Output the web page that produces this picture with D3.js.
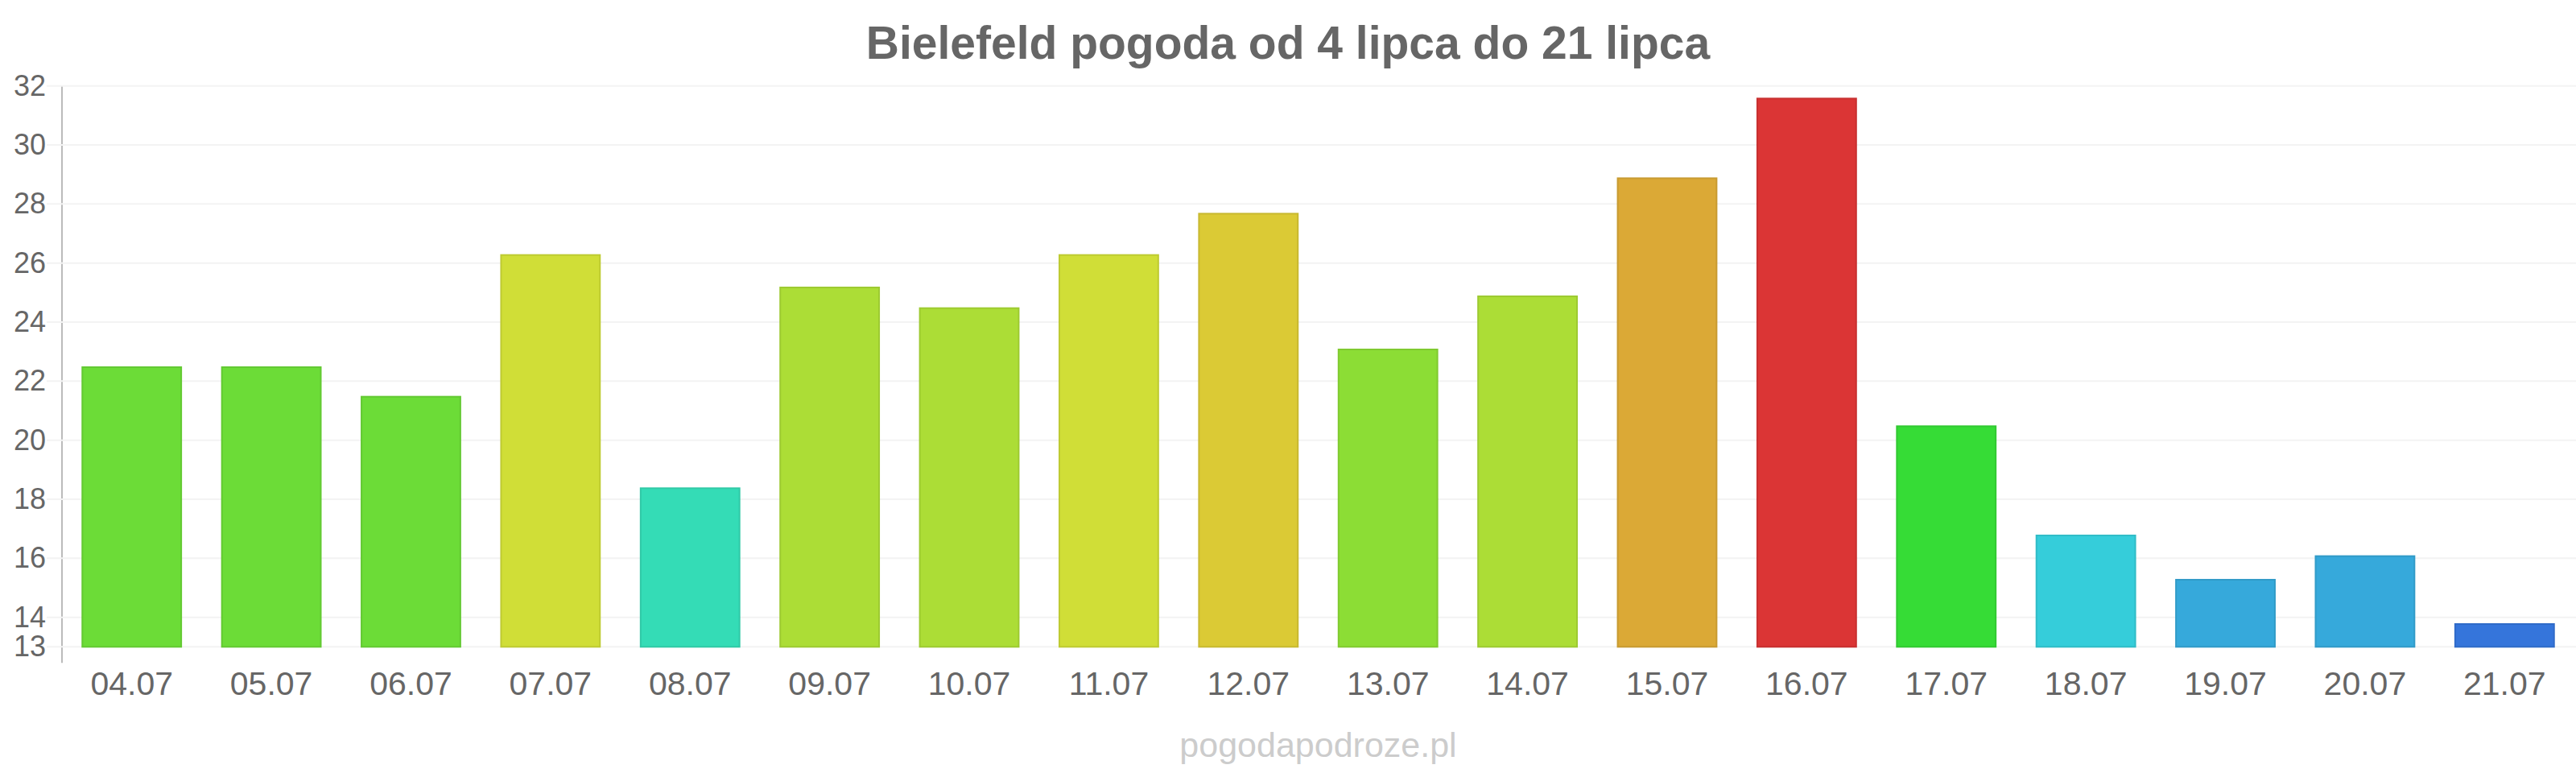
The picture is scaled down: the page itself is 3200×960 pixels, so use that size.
<!DOCTYPE html>
<html>
<head>
<meta charset="utf-8">
<script src="https://cdn.jsdelivr.net/npm/d3@7"></script>
<style>
  body { margin: 0; background: #fff; }
  svg { display: block; font-family: "Liberation Sans", Arial, sans-serif; }
</style>
</head>
<body>
<div id="chart"></div>
<script>
var title = "Bielefeld pogoda od 4 lipca do 21 lipca";
var days = ["04.07", "05.07", "06.07", "07.07", "08.07", "09.07", "10.07", "11.07", "12.07",
	"13.07", "14.07", "15.07", "16.07", "17.07", "18.07", "19.07", "20.07", "21.07"];
var temps = [22.5, 22.5, 21.5, 26.3, 18.4, 25.2, 24.5, 26.3, 27.7,
	23.1, 24.9, 28.9, 31.6, 20.5, 16.8, 15.3, 16.1, 13.8];
var yTicks = [13, 14, 16, 18, 20, 22, 24, 26, 28, 30, 32];
var credit = "pogodapodroze.pl";

var width = 3200, height = 960;
var left = 77, right = 3198;

var svg = d3.select("#chart").append("svg")
	.attr("width", width)
	.attr("height", height);

var x = d3.scaleBand()
	.domain(days)
	.range([left, right])
	.paddingInner(0.28)
	.paddingOuter(0.14);

var y = d3.scaleLinear()
	.domain([13, 32])
	.range([803.3, 106.7]);

// temperature -> colour
var color = d3.scaleThreshold()
	.domain([14, 16.5, 18, 20, 21, 23, 24, 26, 27, 28, 30])
	.range(["#3575db", "#36a9db", "#35cdda", "#34dcb6", "#36dc36", "#6cdc37",
		"#8cdd35", "#acdd36", "#d0de37", "#dbca35", "#dba936", "#db3535"]);

// axis line
svg.append("line")
	.attr("x1", left).attr("x2", left)
	.attr("y1", y(32)).attr("y2", y(13) + 20)
	.attr("stroke", "#bbbbbb")
	.attr("stroke-width", 2);

// grid
svg.append("g").selectAll("line")
	.data(yTicks)
	.join("line")
	.attr("x1", 58).attr("x2", width)
	.attr("y1", function(d){ return y(d); })
	.attr("y2", function(d){ return y(d); })
	.attr("stroke", "#f3f3f3")
	.attr("stroke-width", 2);

// y labels
var yAxis = svg.append("g")
	.attr("transform", "translate(" + (left - 20) + ",0)")
	.call(d3.axisLeft(y).tickValues(yTicks).tickSize(0).tickPadding(0));
yAxis.select(".domain").remove();
yAxis.selectAll("text")
	.attr("fill", "#666")
	.style("font-size", "36px")
	.style("font-family", "Liberation Sans, Arial, sans-serif");

// bars
svg.append("g").selectAll("rect")
	.data(temps)
	.join("rect")
	.attr("x", function(d, i){ return x(days[i]) + 1; })
	.attr("width", x.bandwidth() - 2)
	.attr("y", function(d){ return y(d) + 1; })
	.attr("height", function(d){ return y(13) - y(d) - 1; })
	.attr("fill", function(d){ return color(d); })
	.attr("stroke", function(d){ return d3.color(color(d)).darker(0.25); })
	.attr("stroke-width", 2);

// x labels
var xAxis = svg.append("g")
	.attr("transform", "translate(0," + 832 + ")")
	.call(d3.axisBottom(x).tickSize(0).tickPadding(0));
xAxis.select(".domain").remove();
xAxis.selectAll("text")
	.attr("fill", "#666")
	.attr("dy", "0.76em")
	.attr("y", 0)
	.style("font-size", "41px")
	.style("font-family", "Liberation Sans, Arial, sans-serif");

// title
svg.append("text")
	.attr("x", width / 2)
	.attr("y", 73)
	.attr("text-anchor", "middle")
	.attr("fill", "#666")
	.style("font-size", "57px")
	.style("font-weight", "bold")
	.text(title);

// credit
svg.append("text")
	.attr("x", (left + right) / 2)
	.attr("y", 940)
	.attr("text-anchor", "middle")
	.attr("fill", "#cccccc")
	.style("font-size", "43px")
	.text(credit);
</script>
</body>
</html>
